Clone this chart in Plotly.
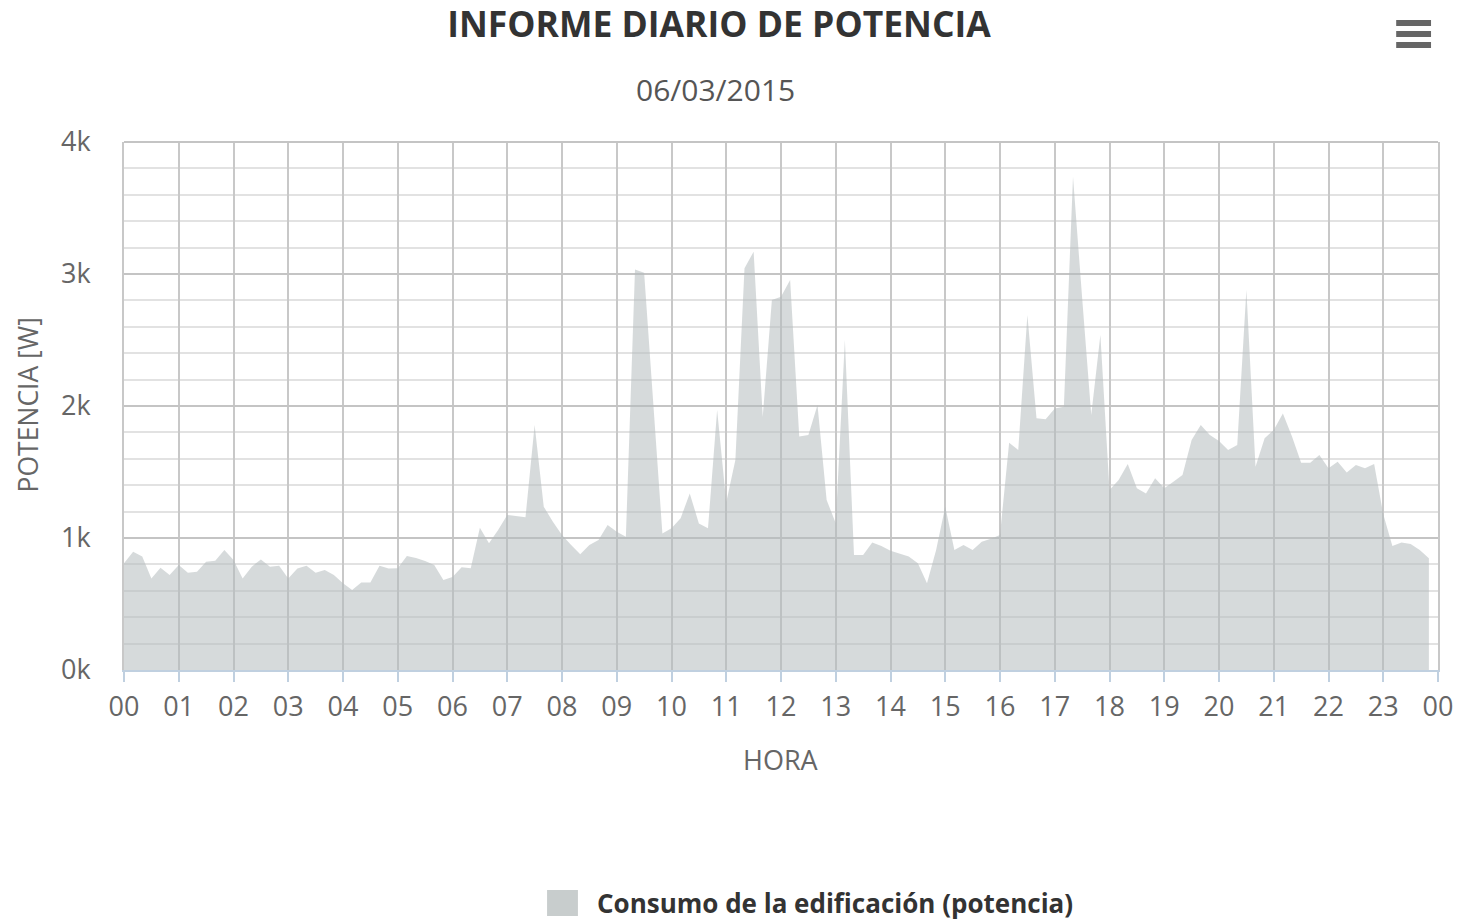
import plotly.graph_objects as go
import pandas as pd

# potencia cada 10 minutos (W), 06/03/2015
potencia = [
    808, 896, 859, 694, 775, 720, 795, 737, 745, 821, 828, 909,
    833, 694, 783, 838, 783, 790, 694, 768, 790, 737, 758, 720,
    657, 606, 662, 662, 790, 768, 770, 864, 848, 826, 795, 682,
    705, 778, 770, 1078, 960, 1060, 1174, 1165, 1157, 1856, 1237, 1124,
    1023, 947, 876, 947, 985, 1098, 1048, 1010, 3035, 3010, 2050, 1035,
    1073, 1149, 1338, 1110, 1073, 1970, 1270, 1591, 3043, 3169, 1919, 2803,
    2828, 2955, 1768, 1780, 2008, 1288, 1111, 2500, 871, 871, 965, 939,
    904, 879, 859, 808, 657, 909, 1237, 909, 947, 909, 972, 995,
    1023, 1722, 1667, 2689, 1907, 1899, 1982, 1995, 3737, 2820, 1932, 2538,
    1364, 1439, 1561, 1376, 1338, 1452, 1376, 1427, 1477, 1742, 1856, 1780,
    1735, 1667, 1705, 2879, 1540, 1755, 1818, 1944, 1768, 1571, 1571, 1629,
    1528, 1578, 1497, 1553, 1528, 1561, 1180, 939, 965, 955, 909, 846,
]
y_ticks = [0, 1000, 2000, 3000, 4000]
y_labels = ["0k", "1k", "2k", "3k", "4k"]

horas = pd.date_range("2015-03-06 00:00", periods=len(potencia), freq="10min")

FONT = "Open Sans"
W, H = 1465, 920
L, R, T, B = 124, 21, 142, 250
PW, PH = W - L - R, H - T - B


def px(x):
    return (x - L) / PW


def py(y):
    return (H - B - y) / PH


fig = go.Figure()
fig.add_trace(go.Scatter(
    x=horas, y=potencia, mode="lines", fill="tozeroy",
    line=dict(color="rgba(180,187,189,0.55)", width=0),
    fillcolor="rgba(180,187,189,0.55)",
    name="Consumo de la edificación (potencia)", showlegend=False,
))

fig.update_layout(
    width=W, height=H,
    margin=dict(l=L, r=R, t=T, b=B),
    plot_bgcolor="white", paper_bgcolor="white",
    font=dict(family=FONT, color="#666666"),
    title=dict(text="<b>INFORME DIARIO DE POTENCIA</b>", x=719 / W, xanchor="center",
               y=1 - 25 / H, yanchor="middle",
               font=dict(family=FONT, size=35.5, color="#333333")),
)

fig.update_xaxes(
    type="date",
    range=["2015-03-06 00:00", "2015-03-07 00:00"],
    tick0="2015-03-06 00:00", dtick=3600000, tickformat="%H",
    showgrid=True, gridcolor="#c8c8c8", gridwidth=2,
    showline=True, linecolor="#C0D0E0", linewidth=2,
    ticks="outside", ticklen=10, tickcolor="#C0D0E0", tickwidth=2,
    ticklabelstandoff=2,
    tickfont=dict(family=FONT, size=27, color="#666666"),
    zeroline=False,
)
fig.update_yaxes(
    range=[0, 4000],
    tickvals=y_ticks, ticktext=y_labels,
    showgrid=True, gridcolor="#c4c4c4", gridwidth=2,
    minor=dict(dtick=200, showgrid=True, gridcolor="#e2e2e2", gridwidth=2),
    showline=True, mirror=True, linecolor="#c8c8c8", linewidth=2,
    ticks="", ticklabelstandoff=26,
    tickfont=dict(family=FONT, size=27, color="#666666"),
    zeroline=False,
)

# linea superior del area de trazado
fig.add_shape(type="line", xref="paper", yref="paper", x0=0, x1=1, y0=1, y1=1,
              line=dict(color="#c4c4c4", width=2))

# subtitulo y titulos de ejes
fig.add_annotation(text="06/03/2015", xref="paper", yref="paper",
                   x=px(718), y=py(89), showarrow=False,
                   xanchor="center", yanchor="middle",
                   font=dict(family=FONT, size=30, color="#555555"))
fig.add_annotation(text="HORA", xref="paper", yref="paper", x=0.5, y=py(759),
                   showarrow=False, xanchor="center", yanchor="middle",
                   font=dict(family=FONT, size=27, color="#666666"))
fig.add_annotation(text="POTENCIA [W]", xref="paper", yref="paper",
                   x=px(28), y=py(405), textangle=-90, showarrow=False,
                   xanchor="center", yanchor="middle",
                   font=dict(family=FONT, size=26.5, color="#666666"))

# leyenda
fig.add_shape(type="rect", xref="paper", yref="paper",
              x0=px(549), x1=px(580), y0=py(916), y1=py(890),
              fillcolor="#c8cdcd", line=dict(width=0))
fig.add_annotation(text="<b>Consumo de la edificación (potencia)</b>", xref="paper", yref="paper",
                   x=px(597), y=py(903), showarrow=False,
                   xanchor="left", yanchor="middle",
                   font=dict(family=FONT, size=26, color="#333333"))

# icono de menu
for yy in [23, 34, 45]:
    fig.add_shape(type="line", xref="paper", yref="paper",
                  x0=px(1402), x1=px(1437), y0=py(yy), y1=py(yy),
                  line=dict(color="#666666", width=6))

fig.write_html("out.html", config={"displayModeBar": False},
               post_script="document.body.style.margin='0';document.body.style.overflow='hidden';")
